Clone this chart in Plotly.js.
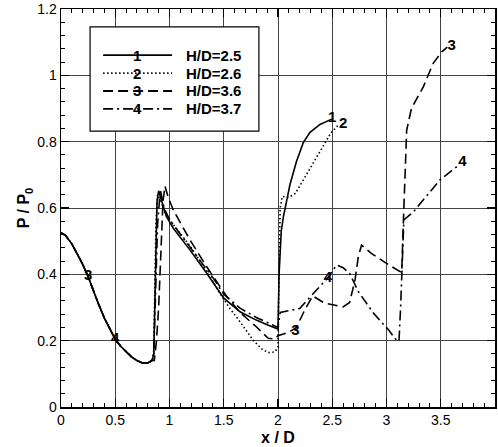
<!DOCTYPE html>
<html>
<head>
<meta charset="utf-8">
<script src="https://cdn.plot.ly/plotly-3.0.1.min.js"></script>
<style>html,body{margin:0;padding:0;background:#fff;}#chart{width:498px;height:447px;}</style>
</head>
<body>
<div id="chart"></div>
<script>
// shared upstream segment (all four curves coincide here)
var xCommon = [0, 0.04, 0.1, 0.15, 0.2, 0.25, 0.3, 0.35, 0.4, 0.45, 0.5, 0.55, 0.6, 0.65, 0.7, 0.75, 0.8, 0.84];
var yCommon = [0.525, 0.518, 0.492, 0.462, 0.43, 0.393, 0.347, 0.307, 0.268, 0.234, 0.204, 0.183, 0.166, 0.151, 0.14, 0.133, 0.133, 0.14];

var x1 = [0.855, 0.865, 0.875, 0.885, 0.9, 0.93, 0.97, 1.035, 1.19, 1.343, 1.5, 1.65, 1.8, 1.9, 2.0, 2.01, 2.03, 2.05, 2.11, 2.17, 2.233, 2.295, 2.387, 2.495];
var y1 = [0.16, 0.3, 0.5, 0.62, 0.652, 0.62, 0.575, 0.539, 0.473, 0.403, 0.328, 0.287, 0.262, 0.248, 0.235, 0.4, 0.53, 0.574, 0.67, 0.74, 0.797, 0.828, 0.852, 0.868];

var x2 = [0.855, 0.865, 0.875, 0.89, 0.92, 0.96, 1.035, 1.19, 1.343, 1.45, 1.557, 1.65, 1.77, 1.85, 1.91, 1.97, 2.0, 2.01, 2.02, 2.04, 2.1, 2.16, 2.27, 2.38, 2.485, 2.55];
var y2 = [0.17, 0.35, 0.55, 0.64, 0.62, 0.585, 0.55, 0.485, 0.41, 0.35, 0.297, 0.257, 0.202, 0.175, 0.164, 0.166, 0.18, 0.4, 0.6, 0.635, 0.632, 0.644, 0.705, 0.765, 0.825, 0.848];

var x3 = [0.86, 0.88, 0.9, 0.92, 0.94, 0.958, 0.99, 1.035, 1.19, 1.343, 1.527, 1.65, 1.8, 1.91, 1.97, 2.0, 2.1, 2.17, 2.25, 2.32, 2.43, 2.6, 2.66, 2.71, 2.74, 2.77, 2.86, 3.0, 3.14, 3.16, 3.186, 3.23, 3.34, 3.43, 3.51, 3.56];
var y3 = [0.14, 0.2, 0.3, 0.48, 0.62, 0.666, 0.63, 0.594, 0.503, 0.423, 0.333, 0.285, 0.242, 0.207, 0.205, 0.215, 0.225, 0.24, 0.295, 0.335, 0.313, 0.302, 0.315, 0.383, 0.453, 0.488, 0.463, 0.433, 0.405, 0.6, 0.835, 0.9, 0.966, 1.036, 1.071, 1.085];

var x4 = [0.855, 0.87, 0.89, 0.915, 0.95, 1.0, 1.1, 1.25, 1.4, 1.5, 1.65, 1.8, 1.9, 2.0, 2.02, 2.1, 2.2, 2.3, 2.4, 2.46, 2.54, 2.6, 2.66, 2.74, 2.88, 3.02, 3.09, 3.115, 3.13, 3.15, 3.16, 3.25, 3.37, 3.49, 3.65];
var y4 = [0.16, 0.35, 0.55, 0.655, 0.6, 0.565, 0.52, 0.455, 0.39, 0.34, 0.298, 0.27, 0.255, 0.24, 0.285, 0.29, 0.297, 0.333, 0.37, 0.39, 0.428, 0.42, 0.403, 0.348, 0.283, 0.232, 0.202, 0.198, 0.3, 0.45, 0.564, 0.589, 0.635, 0.684, 0.725];

// curve label symbols drawn along the lines
var labelX = [0.25, 0.5, 2.5, 2.6, 2.16, 2.46, 3.6, 3.7];
var labelY = [0.395, 0.205, 0.872, 0.853, 0.228, 0.388, 1.088, 0.738];
var labelText = ['3', '4', '1', '2', '3', '4', '3', '4'];

var seriesNames = ['H/D=2.5', 'H/D=2.6', 'H/D=3.6', 'H/D=3.7'];
var seriesSymbols = ['1', '2', '3', '4'];
var dashes = ['solid', '1.5px,2.5px', '10px,5px', '10px,4px,2px,4px'];

var xs = [xCommon.concat(x1), xCommon.concat(x2), xCommon.concat(x3), xCommon.concat(x4)];
var ys = [yCommon.concat(y1), yCommon.concat(y2), yCommon.concat(y3), yCommon.concat(y4)];

var FONT = 'Liberation Sans, Arial, sans-serif';
var traces = [];
for (var i = 0; i < 4; i++) {
  traces.push({
    x: xs[i], y: ys[i], type: 'scatter', mode: 'lines', name: seriesNames[i],
    line: {color: '#000', width: 1.6, dash: dashes[i]}, showlegend: false, hoverinfo: 'skip'
  });
}
traces.push({
  x: labelX, y: labelY, text: labelText, type: 'scatter', mode: 'text',
  textfont: {family: FONT, size: 15, color: '#000', weight: 'bold'},
  showlegend: false, hoverinfo: 'skip'
});

// hand-built legend box (paper coordinates)
var shapes = [{
  type: 'rect', xref: 'paper', yref: 'paper', x0: 0.067, x1: 0.456, y0: 0.693, y1: 0.955,
  line: {color: '#000', width: 1.2}, fillcolor: '#fff', layer: 'above'
}];
var annotations = [];
var rowY = [0.884, 0.839, 0.794, 0.749];
for (var k = 0; k < 4; k++) {
  shapes.push({
    type: 'line', xref: 'paper', yref: 'paper', x0: 0.097, x1: 0.256, y0: rowY[k], y1: rowY[k],
    line: {color: '#000', width: 1.8, dash: dashes[k]}, layer: 'above'
  });
  annotations.push({
    xref: 'paper', yref: 'paper', x: 0.176, y: rowY[k], text: '<b>' + seriesSymbols[k] + '</b>',
    showarrow: false, xanchor: 'center', yanchor: 'middle',
    font: {family: FONT, size: 15, color: '#000'}
  });
  annotations.push({
    xref: 'paper', yref: 'paper', x: 0.283, y: rowY[k], text: '<b>' + seriesNames[k] + '</b>',
    showarrow: false, xanchor: 'left', yanchor: 'middle',
    font: {family: FONT, size: 15, color: '#000'}
  });
}

var axisCommon = {
  showline: true, linecolor: '#000', linewidth: 1.5, mirror: 'allticks',
  ticks: 'inside', ticklen: 8, tickwidth: 1.2, tickcolor: '#000',
  showgrid: true, gridcolor: '#444', gridwidth: 1, zeroline: false,
  tickfont: {family: FONT, size: 14, color: '#000'}
};

var layout = {
  width: 498, height: 447,
  margin: {l: 61, r: 3, t: 9, b: 40},
  paper_bgcolor: '#fff', plot_bgcolor: '#fff',
  showlegend: false,
  xaxis: Object.assign({}, axisCommon, {
    range: [0, 4], dtick: 0.5, tick0: 0,
    minor: {dtick: 0.1, ticks: 'inside', ticklen: 4, tickwidth: 1, tickcolor: '#000', showgrid: false},
    title: {text: '<b>x / D</b>', font: {family: FONT, size: 16, color: '#000'}, standoff: 4}
  }),
  yaxis: Object.assign({}, axisCommon, {
    range: [0, 1.2], dtick: 0.2, tick0: 0,
    minor: {dtick: 0.04, ticks: 'inside', ticklen: 4, tickwidth: 1, tickcolor: '#000', showgrid: false},
    title: {text: '<b>P / P<sub>0</sub></b>', font: {family: FONT, size: 16, color: '#000'}, standoff: 3}
  }),
  shapes: shapes,
  annotations: annotations
};

Plotly.newPlot('chart', traces, layout, {displayModeBar: false, staticPlot: true});
</script>
</body>
</html>
